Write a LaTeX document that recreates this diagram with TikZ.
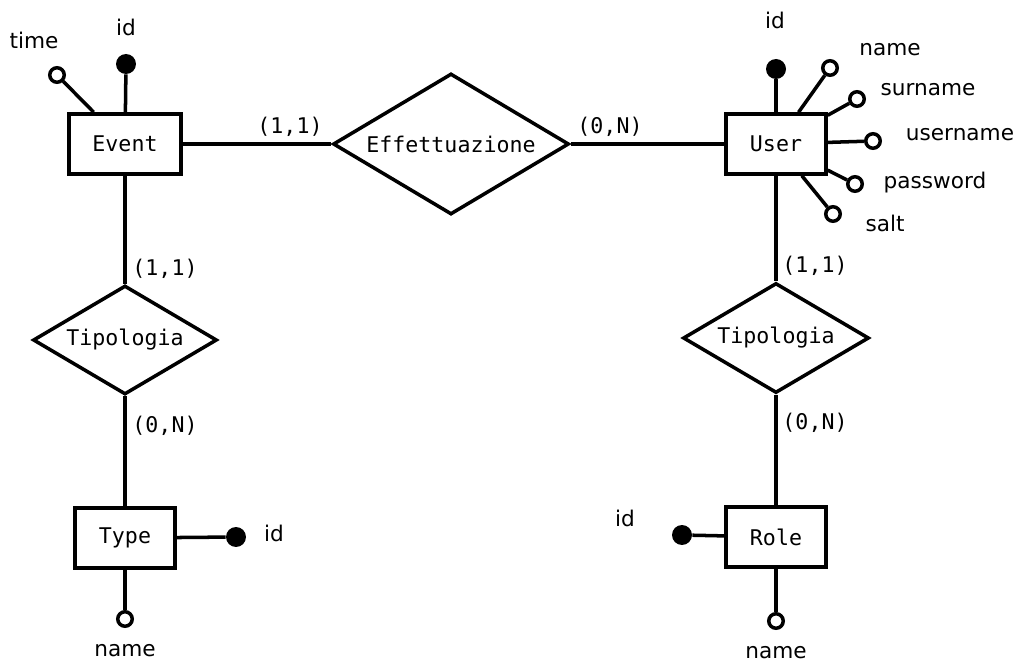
\documentclass[tikz,border=0pt]{standalone}
\usepackage{fontspec}
\setmainfont{DejaVu Sans}
\setmonofont{DejaVu Sans Mono}
\usetikzlibrary{shapes.geometric}

\newcommand{\erSize}{\fontsize{12.3}{14}\selectfont}

\tikzset{
	entity/.style={draw, line width=2pt, rectangle, inner sep=0pt,
		minimum width=2cm, minimum height=1.2cm, font=\erSize\ttfamily},
	relation/.style={draw, line width=2pt, diamond, aspect=1.7, inner sep=0pt, font=\erSize\ttfamily},
	key/.style={circle, fill=black, inner sep=0pt, minimum size=0.4cm},
	attr/.style={circle, draw, fill=white, line width=2pt, inner sep=0pt, minimum size=0.29cm},
	card/.style={font=\erSize\ttfamily},
	link/.style={line width=2pt}
}

\begin{document}
\begin{tikzpicture}[x=0.02cm, y=-0.02cm, font=\erSize]

	\useasboundingbox (0,0) rectangle (1018,662);

	% entities and relations
	\node[entity, minimum width=2.24cm] (event) at (125,144) {Event};
	\node[entity] (user) at (776,144) {User};
	\node[entity] (type) at (125,538) {Type};
	\node[entity] (role) at (776,537) {Role};

	\node[relation, minimum width=4.72cm, minimum height=2.82cm] (effettuazione) at (451,144) {Effettuazione};
	\node[relation, minimum width=3.68cm, minimum height=2.18cm] (tipEvent) at (125,340) {Tipologia};
	\node[relation, minimum width=3.72cm, minimum height=2.2cm] (tipUser) at (776,338) {Tipologia};

	\draw[link] (event) -- (effettuazione) -- (user);
	\draw[link] (event) -- (tipEvent) -- (type);
	\draw[link] (user) -- (tipUser) -- (role);

	\node[card] (c1) at (290,127) {(1,1)};
	\node[card] (c2) at (610,127) {(0,N)};
	\node[card] (c3) at (165,269) {(1,1)};
	\node[card] (c4) at (165,426) {(0,N)};
	\node[card] (c5) at (815,266) {(1,1)};
	\node[card] (c6) at (815,423) {(0,N)};

	% Event attributes
	\node[key] (eventId) at (126,64) {};
	\node[attr] (eventTime) at (57,75) {};
	\draw[link] (event) -- (eventId);
	\draw[link] (event) -- (eventTime);
	\node at (126,27) {id};
	\node at (34,40) {time};

	% User attributes
	\node[key] (userId) at (776,69) {};
	\node[attr] (userName) at (830,68) {};
	\node[attr] (userSurname) at (857,99) {};
	\node[attr] (userUsername) at (873,141) {};
	\node[attr] (userPassword) at (855,184) {};
	\node[attr] (userSalt) at (833,214) {};
	\foreach \a in {userId,userName,userSurname,userUsername,userPassword,userSalt}
		\draw[link] (user) -- (\a);
	\node at (775,20) {id};
	\node at (890,50) {name};
	\node at (928,90) {surname};
	\node at (960,135) {username};
	\node at (935,183) {password};
	\node at (885,223) {salt};

	% Type attributes
	\node[key] (typeId) at (236,537) {};
	\node[attr] (typeName) at (125,619) {};
	\draw[link] (type) -- (typeId);
	\draw[link] (type) -- (typeName);
	\node at (274,533) {id};
	\node at (125,651) {name};

	% Role attributes
	\node[key] (roleId) at (682,535) {};
	\node[attr] (roleName) at (776,621) {};
	\draw[link] (role) -- (roleId);
	\draw[link] (role) -- (roleName);
	\node at (625,518) {id};
	\node at (776,653) {name};

\end{tikzpicture}
\end{document}
